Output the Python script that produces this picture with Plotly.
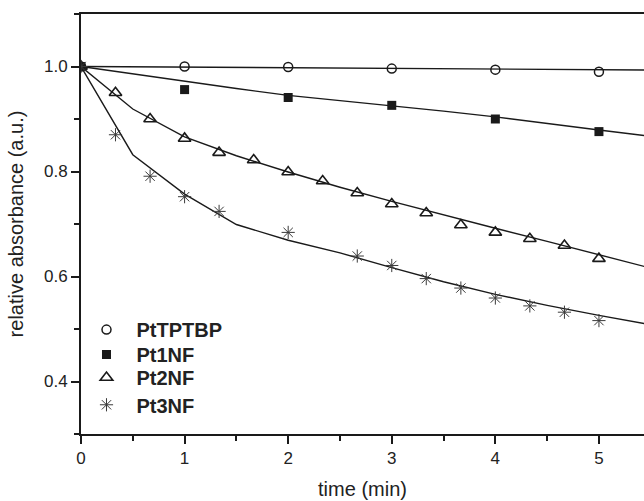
import plotly.graph_objects as go

# measured data points
t_tptbp = [0, 1, 2, 3, 4, 5]
y_tptbp = [1.0, 1.0, 0.999, 0.996, 0.994, 0.990]

t_1nf = [0, 1, 2, 3, 4, 5]
y_1nf = [1.0, 0.956, 0.941, 0.926, 0.900, 0.876]

t_2nf = [0, 0.333, 0.667, 1.0, 1.333, 1.667, 2.0, 2.333, 2.667, 3.0, 3.333, 3.667, 4.0, 4.333, 4.667, 5.0]
y_2nf = [1.0, 0.950, 0.900, 0.863, 0.836, 0.822, 0.799, 0.782, 0.759, 0.738, 0.721, 0.698, 0.684, 0.672, 0.659, 0.634]

t_3nf = [0, 0.333, 0.667, 1.0, 1.333, 2.0, 2.667, 3.0, 3.333, 3.667, 4.0, 4.333, 4.667, 5.0]
y_3nf = [1.0, 0.870, 0.791, 0.752, 0.724, 0.684, 0.639, 0.621, 0.596, 0.578, 0.559, 0.544, 0.532, 0.516]

# fitted curves
fit_t = [0, 0.5, 1.0, 1.5, 2.0, 2.5, 3.0, 3.5, 4.0, 4.5, 5.0, 5.5]
fit_tptbp = [1.0, 0.9994, 0.9988, 0.9982, 0.9976, 0.997, 0.9964, 0.9958, 0.9952, 0.9946, 0.994, 0.9934]
fit_1nf = [1.0, 0.986, 0.971, 0.958, 0.945, 0.935, 0.926, 0.915, 0.904, 0.891, 0.879, 0.867]
fit_2nf = [1.0, 0.919, 0.866, 0.830, 0.799, 0.770, 0.743, 0.717, 0.692, 0.667, 0.642, 0.616]
fit_3nf = [1.0, 0.832, 0.757, 0.699, 0.669, 0.645, 0.617, 0.590, 0.566, 0.545, 0.526, 0.508]

labels = ["PtTPTBP", "Pt1NF", "Pt2NF", "Pt3NF"]

FONT = "Liberation Sans, Arial, sans-serif"
INK = "#1a1a1a"

fig = go.Figure()

for fy in [fit_tptbp, fit_1nf, fit_2nf, fit_3nf]:
    fig.add_trace(go.Scatter(x=fit_t, y=fy, mode="lines",
                             line=dict(color=INK, width=1.4),
                             showlegend=False, hoverinfo="skip"))

fig.add_trace(go.Scatter(x=t_tptbp, y=y_tptbp, mode="markers", name=labels[0], legend="legend",
                         marker=dict(symbol="circle-open", size=9, color=INK,
                                     line=dict(width=1.5, color=INK))))
fig.add_trace(go.Scatter(x=t_1nf, y=y_1nf, mode="markers", name=labels[1], legend="legend2",
                         marker=dict(symbol="square", size=9, color=INK,
                                     line=dict(width=0))))
fig.add_trace(go.Scatter(x=t_2nf, y=y_2nf, mode="markers", name=labels[2], legend="legend3",
                         marker=dict(symbol="triangle-up-open", size=11, color=INK,
                                     line=dict(width=1.6, color=INK))))
fig.add_trace(go.Scatter(x=t_3nf, y=y_3nf, mode="markers", name=labels[3], legend="legend4",
                         marker=dict(symbol="asterisk-open", size=11, color="#3a3a3a",
                                     line=dict(width=1.0, color="#3a3a3a"))))

axis_common = dict(
    showgrid=False, zeroline=False, automargin=False,
    showline=True, linecolor=INK, linewidth=2,
    ticks="outside", ticklen=8, tickwidth=1.6, tickcolor=INK,
    tickfont=dict(family=FONT, size=17, color="#222222"),
)

fig.update_xaxes(range=[0, 5.435], tick0=0, dtick=1, tickformat="d",
                 mirror=True,
                 minor=dict(ticks="outside", ticklen=5, tickwidth=1.6, tickcolor=INK, dtick=0.5, showgrid=False),
                 title=dict(text="time (min)",
                            font=dict(family=FONT, size=20, color="#222222")),
                 **axis_common)
fig.update_yaxes(range=[0.3, 1.1], tick0=0.4, dtick=0.2, tickformat=".1f",
                 minor=dict(ticks="outside", ticklen=5, tickwidth=1.6, tickcolor=INK, dtick=0.1, tick0=0.3, showgrid=False),
                 title=dict(text="relative absorbance (a.u.)",
                            font=dict(family=FONT, size=20, color="#222222")),
                 **axis_common)

leg_font = dict(family=FONT, size=20, color="#222222", weight="bold")
def leg(y):
    return dict(x=-0.008, y=y, xanchor="left", yanchor="top",
                bgcolor="rgba(0,0,0,0)", itemwidth=50, font=leg_font)

fig.update_layout(
    width=644, height=501,
    margin=dict(l=81, r=0, t=14, b=67),
    paper_bgcolor="white", plot_bgcolor="white",
    showlegend=True,
    legend=leg(0.2950), legend2=leg(0.2360), legend3=leg(0.1810), legend4=leg(0.1160),
)

fig.write_html("out.html",
               config={"displayModeBar": False},
               post_script="document.body.style.margin='0';document.body.style.overflow='hidden';")
